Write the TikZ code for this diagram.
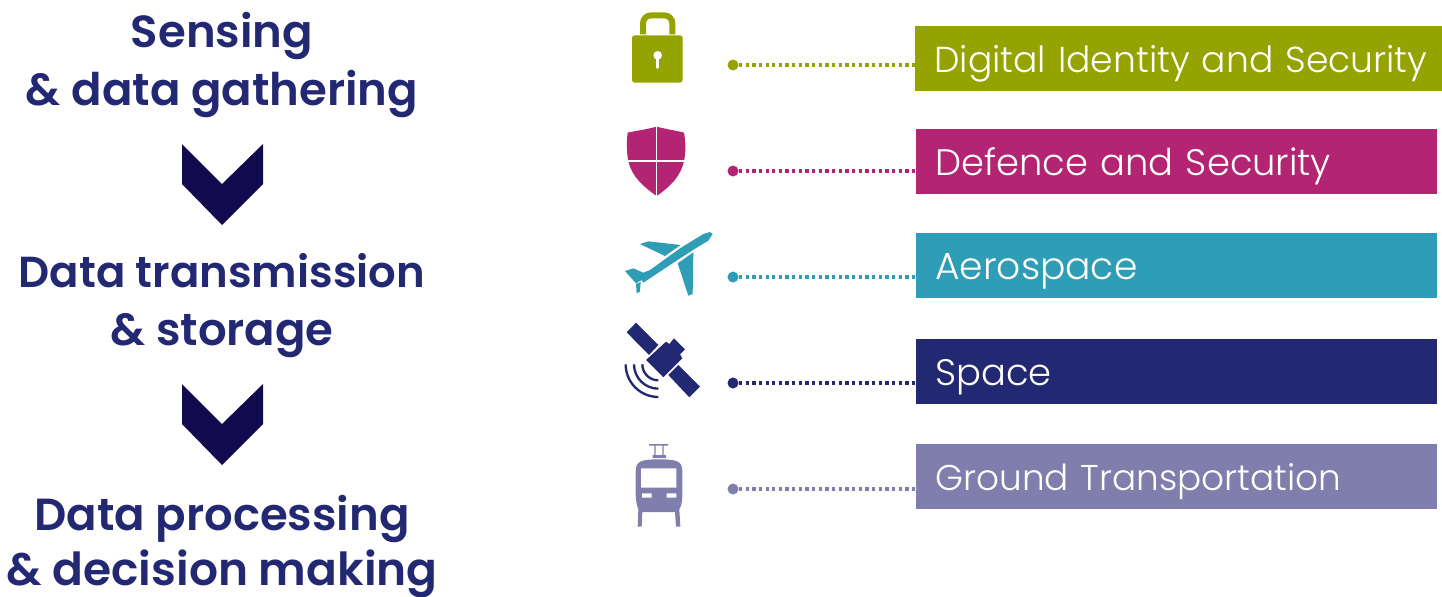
\documentclass[tikz,border=0pt]{standalone}
\usepackage{fontspec}
\setmainfont{Poppins}
\newfontfamily\lightfont{Poppins Light}
\newfontfamily\headfont{Poppins SemiBold}
\definecolor{olivebox}{HTML}{95A300}
\definecolor{magentabox}{HTML}{B32572}
\definecolor{tealbox}{HTML}{2F9DB5}
\definecolor{navybox}{HTML}{232873}
\definecolor{purplebox}{HTML}{7F7EAD}
\definecolor{chevron}{HTML}{120A4F}

\begin{document}
\begin{tikzpicture}[x=0.02cm,y=-0.02cm]
        \tikzset{heading/.style = {text=navybox,inner sep=0pt,anchor=base,font=\headfont\fontsize{25.6}{30}\selectfont}}
        \tikzset{sector/.style = {anchor=north west,text=white,inner ysep=0pt,inner xsep=19*0.02cm,
            text width=483*0.02cm,align=left,text height=26.2pt,text depth=10.65pt,font=\lightfont\fontsize{21}{24}\selectfont}}
        \tikzset{dot/.style = {circle,inner sep=0pt,minimum size=11*0.02cm}}
        \tikzset{link/.style = {line width=3.2*0.02cm,dash pattern=on 3.33*0.02cm off 3.33*0.02cm}}
        \tikzset{icon/.style = {x=0.02cm/3,y=-0.02cm/3}}
        \useasboundingbox (0,0) rectangle (1442,596);

        \node[heading] (h1) at (222,47) {Sensing};
        \node[heading] (h2) at (222,105) {\& data gathering};
        \node[heading, font=\headfont\fontsize{24.7}{30}\selectfont] (h3) at (222,287) {Data transmission};
        \node[heading] (h4) at (222,345) {\& storage};
        \node[heading] (h5) at (222,530) {Data processing};
        \node[heading, font=\headfont\fontsize{25.9}{30}\selectfont] (h6) at (222,585) {\& decision making};

        \fill[chevron] (182,144) -- (222,184) -- (263,144) -- (263,184) -- (222,225) -- (182,184) -- cycle;
        \fill[chevron] (182,384) -- (222,424) -- (263,384) -- (263,424) -- (222,465) -- (182,424) -- cycle;

        \node[sector, fill=olivebox, text width=489*0.02cm, font=\lightfont\fontsize{20.55}{24}\selectfont] (b1) at (915,26) {\mbox{Digital Identity and Security}};
        \node[sector, fill=magentabox] (b2) at (916,129) {Defence and Security};
        \node[sector, fill=tealbox, font=\lightfont\fontsize{21.4}{24}\selectfont] (b3) at (916,233) {Aerospace};
        \node[sector, fill=navybox] (b4) at (916,339) {Space};
        \node[sector, fill=purplebox, font=\lightfont\fontsize{20.4}{24}\selectfont] (b5) at (916,444) {Ground Transportation};

        \node[dot, fill=olivebox] (d1) at (733,65) {};
        \node[dot, fill=magentabox] (d2) at (733,171) {};
        \node[dot, fill=tealbox] (d3) at (733,277) {};
        \node[dot, fill=navybox] (d4) at (733,383) {};
        \node[dot, fill=purplebox] (d5) at (733,489) {};

        \draw[link, olivebox] (d1) -- (d1 -| b1.west);
        \draw[link, magentabox] (d2) -- (d2 -| b2.west);
        \draw[link, tealbox] (d3) -- (d3 -| b3.west);
        \draw[link, navybox] (d4) -- (d4 -| b4.west);
        \draw[link, purplebox] (d5) -- (d5 -| b5.west);

        % lock
        \begin{scope}[shift={(610,0)},icon]
            \draw[olivebox,line width=18*0.02cm/3] (99,103) -- (99,70) arc (180:270:24) -- (163,46) arc (270:360:24) -- (187,103);
            \fill[olivebox,rounded corners=1.5pt] (66,106) rectangle (218,248);
            \fill[white] (143,166) circle (13);
            \draw[white,line width=10*0.02cm/3,line cap=round] (143,170) -- (143,202);
        \end{scope}
        % shield
        \begin{scope}[shift={(610,0)},icon]
            \fill[magentabox] (140,380) .. controls (170,388) and (200,392) .. (222,398) .. controls (228,430) and (227,460) .. (222,483) .. controls (212,530) and (180,560) .. (140,588) .. controls (100,560) and (65,530) .. (55,483) .. controls (50,460) and (49,430) .. (53,398) .. controls (80,392) and (110,388) .. (140,380) -- cycle;
            \draw[white,line width=4*0.02cm/3] (140,378) -- (140,590) (45,483) -- (230,483);
        \end{scope}
        % plane
        \begin{scope}[shift={(610,220)},icon]
            \fill[tealbox] (308,42) -- (300,36) -- (280,42) -- (210,85) -- (120,150) -- (100,158) -- (70,145) -- (45,153) -- (78,190) -- (95,180) -- (100,188) -- (195,125) -- (255,86) -- (295,62) -- cycle;
            \fill[tealbox] (203,130) -- (250,97) -- (248,222) -- (235,227) -- cycle;
            \fill[tealbox] (90,72) -- (115,64) -- (212,75) -- (165,108) -- cycle;
            \fill[tealbox] (78,192) -- (92,186) -- (90,215) -- (80,220) -- cycle;
        \end{scope}
        % satellite
        \begin{scope}[shift={(610,220)},icon]
            \fill[navybox] (50,337) -- (78,308) -- (145,375) -- (117,405) -- cycle;
            \fill[navybox] (175,465) -- (205,435) -- (270,500) -- (238,532) -- cycle;
            \fill[navybox] (108,420) -- (168,365) -- (178,372) -- (192,355) -- (225,388) -- (210,403) -- (217,415) -- (160,472) -- cycle;
            \draw[navybox,line width=7*0.02cm/3] (47,433) arc (180:90:98);
            \draw[navybox,line width=7*0.02cm/3] (72,433) arc (180:90:73);
            \draw[navybox,line width=7*0.02cm/3] (97,433) arc (180:90:48);
        \end{scope}
        % train
        \begin{scope}[shift={(610,430)},icon]
            \fill[purplebox] (117,42) rectangle (174,47) (133,47) rectangle (137,75) (157,47) rectangle (161,75) (128,75) rectangle (168,84);
            \fill[purplebox] (77,125) .. controls (77,95) and (90,88) .. (147,88) .. controls (205,88) and (217,95) .. (217,125) -- (217,190) .. controls (217,215) and (214,228) .. (208,238) -- (211,290) -- (198,290) -- (195,246) -- (97,246) -- (95,290) -- (83,290) -- (85,238) .. controls (80,225) and (77,210) .. (77,190) -- cycle;
            \fill[white] (93,115) rectangle (199,173) (96,190) rectangle (125,203) (170,190) rectangle (199,203);
        \end{scope}
    \end{tikzpicture}
\end{document}
